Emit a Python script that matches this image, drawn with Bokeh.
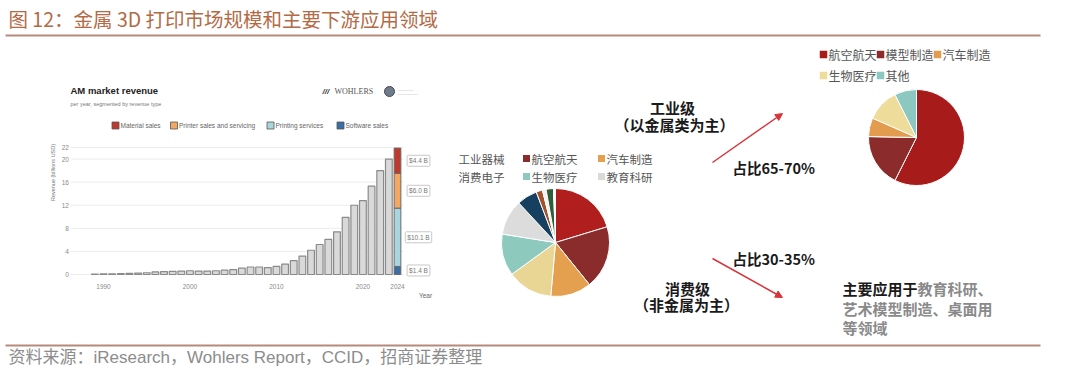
import numpy as np
from bokeh.plotting import figure
from bokeh.models import Range1d, Arrow, NormalHead
from bokeh.core.properties import value
from bokeh.embed import file_html
from bokeh.resources import INLINE

# ---------------- data ----------------
title_text = "图 12：金属 3D 打印市场规模和主要下游应用领域"
source_text = "资料来源：iResearch，Wohlers Report，CCID，招商证券整理"

# AM market revenue (billions USD)
years = list(range(1989, 2024))
revenue = [0.07, 0.1, 0.12, 0.15, 0.2, 0.25, 0.3, 0.45, 0.5, 0.55, 0.6, 0.65,
           0.6, 0.6, 0.65, 0.75, 0.86, 1.1, 1.3, 1.3, 1.2, 1.4, 1.8, 2.4, 3.2,
           4.2, 5.2, 6.1, 7.4, 9.9, 12.0, 12.8, 15.3, 18.0, 20.0]
stack_year = 2024
stack_names = ["Software sales", "Printing services", "Printer sales and servicing", "Material sales"]
stack_values = [1.4, 10.1, 6.0, 4.4]
stack_colors = ["#3B6EA5", "#A9D6DE", "#F2A862", "#BE3A2F"]
stack_labels = ["$1.4 B", "$10.1 B", "$6.0 B", "$4.4 B"]
legend_names = ["Material sales", "Printer sales and servicing", "Printing services", "Software sales"]
legend_colors = ["#BE3A2F", "#F2A862", "#A9D6DE", "#3B6EA5"]
y_ticks = [0, 4, 8, 12, 16, 20, 22]
x_ticks = [1990, 2000, 2010, 2020, 2024]

# Pie 1: downstream applications (all)
pie1_names = ["工业器械", "航空航天", "汽车制造", "消费电子", "生物医疗", "教育科研",
              "其他1", "其他2", "其他3", "其他4", "其他5"]
pie1_values = [20.3, 18.9, 12.2, 13.6, 12.5, 10.6, 6.1, 1.9, 1.1, 2.2, 0.6]
pie1_colors = ["#B01E1E", "#8B2C2C", "#E4A04E", "#E9D594", "#8DCABD", "#DCDCDC",
               "#173F5F", "#A0522D", "#F2F2F2", "#2F5D3A", "#FFFFFF"]
pie1_legend = [("工业器械", None), ("航空航天", "#8B2C2C"), ("汽车制造", "#E4A04E"),
               ("消费电子", None), ("生物医疗", "#8DCABD"), ("教育科研", "#D9D9D9")]

# Pie 2: industrial grade (metal)
pie2_names = ["航空航天", "模型制造", "汽车制造", "生物医疗", "其他"]
pie2_values = [57.4, 17.9, 6.3, 11.0, 7.4]
pie2_colors = ["#A81B1B", "#8B2B2B", "#E39B4E", "#EDDC9A", "#8CC8C0"]

CJK = "Noto Sans CJK SC"
SANS = "Liberation Sans"

# ---------------- canvas ----------------
p = figure(width=1080, height=376, x_range=Range1d(0, 1080), y_range=Range1d(376, 0),
           output_backend="svg", toolbar_location=None, min_border=0,
           x_axis_location=None, y_axis_location=None)
p.grid.visible = False
p.outline_line_color = None
p.background_fill_color = "white"
p.border_fill_color = "white"


def txt(target, x, y, s, size, color="#000000", font=CJK, style="normal",
        align="left", baseline="middle", angle=0.0):
    target.text(x=[x], y=[y], text=[s], text_font=value(font), text_font_size=f"{size}px",
                text_color=color, text_font_style=style, text_align=align,
                text_baseline=baseline, angle=angle)


# header / footer
txt(p, 8, 18, title_text, 19.5, color="#B46A45")
p.segment(x0=[5], x1=[1040], y0=[35], y1=[35], line_color="#B58A7A", line_width=2)
p.segment(x0=[5], x1=[1040], y0=[345], y1=[345], line_color="#B58A7A", line_width=2)
txt(p, 8, 357, source_text, 17, color="#8C8C8C", font=SANS + ", " + CJK)

# ---------------- bar chart (sub-coordinates) ----------------
bar = p.subplot(x_source=Range1d(1990, 2024), x_target=Range1d(103, 397),
                y_source=Range1d(0, 22), y_target=Range1d(274, 147))

bar.segment(x0=years[0] - 2.8, x1=stack_year + 0.7, y0=y_ticks, y1=y_ticks,
            line_color="#ECECEC", line_width=1)
bar.vbar(x=years, top=revenue, width=0.78, fill_color="#D9D9D9",
         line_color="#8A8A8A", line_width=1.2)
tops = np.cumsum(stack_values)
bottoms = tops - np.array(stack_values)
bar.vbar(x=stack_year, bottom=bottoms, top=tops, width=0.78, fill_color=stack_colors,
         line_color="#6A6A6A", line_width=1.0)
bar.text(x=years[0] - 3.0, y=y_ticks, text=[str(t) for t in y_ticks],
         text_font=value(SANS), text_font_size="6.5px", text_color="#8A8A8A",
         text_align="right", text_baseline="middle")
bar.text(x=x_ticks, y=-2.0, text=[str(t) for t in x_ticks],
         text_font=value(SANS), text_font_size="6.5px", text_color="#8A8A8A",
         text_align="center", text_baseline="middle")
mids = (tops + bottoms) / 2
bar.text(x=stack_year, y=mids, text=stack_labels, x_offset=21,
         text_font=value(SANS), text_font_size="6.5px", text_color="#777777",
         text_align="center", text_baseline="middle",
         border_line_color="#C8C8C8", background_fill_color="white", padding=2,
         border_radius=1)

txt(p, 70, 90, "AM market revenue", 9.5, color="#222222", font=SANS, style="bold")
txt(p, 70, 103, "per year, segmented by revenue type", 5.5, color="#777777", font=SANS)
txt(p, 322, 91, "///", 8, color="#333333", font=SANS, style="bold italic")
txt(p, 334, 91, "WOHLERS", 8, color="#555555", font="Liberation Serif")
p.circle(x=[389], y=[91], radius=5, fill_color="#6E7C8A", line_color="#445", line_width=1)
txt(p, 397, 89, "————", 4, color="#999999", font=SANS)
txt(p, 397, 93, "—————", 4, color="#999999", font=SANS)
txt(p, 425, 295, "Year", 6.5, color="#666666", font=SANS, align="center")
txt(p, 52, 172, "Revenue (billions USD)", 5.5, color="#777777", font=SANS,
    align="center", angle=np.pi / 2)

leg_sq_x = [115, 173.5, 270, 340]
p.scatter(x=leg_sq_x, y=[125] * 4, marker="square", size=7, fill_color=legend_colors,
          line_color="#555555", line_width=0.8)
p.text(x=[x + 5 for x in leg_sq_x], y=[125] * 4, text=legend_names,
       text_font=value(SANS), text_font_size="6.5px", text_color="#666666",
       text_align="left", text_baseline="middle")


# ---------------- pies ----------------
def pie(cx, cy, r, vals, colors, lw=1.0):
    v = np.array(vals, dtype=float)
    frac = np.cumsum(v) / v.sum()
    start = np.pi / 2 - np.concatenate([[0.0], frac[:-1]]) * 2 * np.pi
    end = np.pi / 2 - frac * 2 * np.pi
    p.wedge(x=cx, y=cy, radius=r, start_angle=start, end_angle=end, direction="clock",
            fill_color=colors, line_color="white", line_width=lw)


pie(555, 242, 54, pie1_values, pie1_colors)
pie(916, 137, 48, pie2_values, pie2_colors)

# pie1 legend
p1_pos = [(458, 158), (531, 158), (606, 158), (458, 176), (531, 176), (606, 176)]
for (name, col), (lx, ly) in zip(pie1_legend, p1_pos):
    if col is not None:
        p.scatter(x=[lx - 5], y=[ly], marker="square", size=7, fill_color=col, line_color=None)
    txt(p, lx, ly, name, 11.5, color="#555555")

# pie2 legend
p2_pos = [(828, 54), (885, 54), (942, 54), (828, 75), (885, 75)]
for name, col, (lx, ly) in zip(pie2_names, pie2_colors, p2_pos):
    p.scatter(x=[lx - 5], y=[ly], marker="square", size=7.5, fill_color=col, line_color=None)
    txt(p, lx, ly, name, 12, color="#555555")

# ---------------- annotations ----------------
red = "#D8343A"
dark = "#1A1A1A"
txt(p, 672, 107, "工业级", 15, color=dark, style="bold", align="center")
txt(p, 674, 124, "（以金属类为主）", 15, color=dark, style="bold", align="center")
txt(p, 732, 167, "占比65-70%", 14.5, color=dark, style="bold")
txt(p, 732, 258, "占比30-35%", 14.5, color=dark, style="bold")
txt(p, 687, 288, "消费级", 15, color=dark, style="bold", align="center")
txt(p, 686, 304, "（非金属为主）", 15, color=dark, style="bold", align="center")
txt(p, 842, 288, "主要应用于", 15, color=dark, style="bold")
txt(p, 917, 288, "教育科研、", 15, color="#8A8A8A", style="bold")
txt(p, 842, 308, "艺术模型制造、桌面用", 15, color="#8A8A8A", style="bold")
txt(p, 842, 327, "等领域", 15, color="#8A8A8A", style="bold")

p.add_layout(Arrow(end=NormalHead(size=7, fill_color=red, line_color=red),
                   x_start=712, y_start=162, x_end=782, y_end=113,
                   line_color=red, line_width=1.5))
p.add_layout(Arrow(end=NormalHead(size=7, fill_color=red, line_color=red),
                   x_start=712, y_start=258, x_end=782, y_end=297,
                   line_color=red, line_width=1.5))

open("out.html", "w").write(file_html(p, INLINE))
